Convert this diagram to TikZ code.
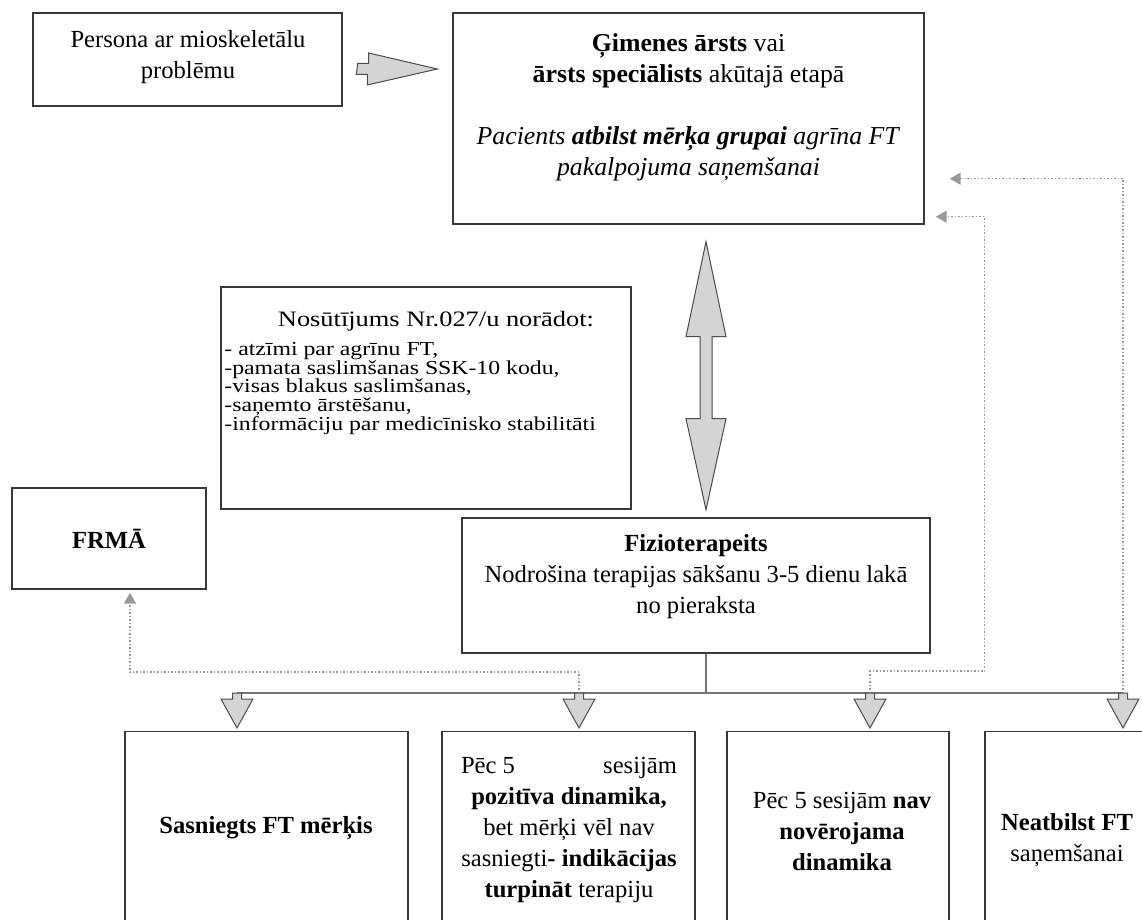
\documentclass[tikz,border=0pt]{standalone}
\usepackage{fontspec}
\setmainfont{Liberation Serif}
\newfontfamily\wideserif{Liberation Serif}[FakeStretch=1.2]
\usetikzlibrary{arrows.meta, positioning, calc}

% block arrow pointing down from the bus line
\newcommand{\downblk}[1]{\draw[blk] ($(#1)+(-4.5,0)$) -- ++(9,0) -- ++(0,6) -- ++(11.5,0)
    -- ++(-16,29) -- ++(-16,-29) -- ++(11.5,0) -- cycle;}
\newcommand{\tightlines}{\wideserif\fontsize{9.9}{9.35}\selectfont\lineskiplimit-100pt\relax}

\begin{document}
\begin{tikzpicture}[x=0.5pt,y=-0.5pt,
        every node/.style={font=\fontsize{12.3}{15.5}\selectfont},
        box/.style={draw=black!78,line width=0.7pt,inner sep=0pt},
        txt/.style={align=center,inner sep=0pt},
        blk/.style={draw=black!70,fill=black!17,line width=0.5pt},
        bus/.style={draw=black!55,line width=0.8pt},
        fb/.style={draw=black!40,line width=0.75pt,densely dotted,
            -{Triangle[length=5.5pt,width=6pt]}}]

    \clip (0,0) rectangle (1142,920);

    % top row
    \node[box,minimum width=154.5pt,minimum height=46.5pt] (pers) at (187.5,59.5) {};
    \node[txt] (pers-t) at (188,57) {Persona ar mioskeletālu\\problēmu};
    \node[box,minimum width=235.5pt,minimum height=105.5pt] (gim) at (688.5,118.5) {};
    \node[txt,font=\fontsize{12.9}{15.5}\selectfont] (gim-t) at (688.5,107)
        {\textbf{Ģimenes ārsts} vai\\\textbf{ārsts speciālists} akūtajā etapā\\[15.5pt]
         \textit{Pacients \textbf{atbilst mērķa grupai} agrīna FT}\\\textit{pakalpojuma saņemšanai}};

    \draw[blk] ($(pers.east)+(15,4)$) -- ++(11,0) -- ++(0,-10.5) -- ($(gim.west)+(-15,-49.5)$)
        -- ++(-70,16) -- ++(0,-10.5) -- ++(-11,0) -- cycle;

    % middle
    \node[box,minimum width=205pt,minimum height=111pt] (nos) at (426,398) {};
    \node[txt,font=\wideserif\fontsize{11}{12}\selectfont] (nos-t) at (436,321)
        {Nosūtījums Nr.027/u norādot:};
    \node[txt,align=left,anchor=north west,font=\tightlines] (nos-l) at (224,342)
        {- atzīmi par agrīnu FT,\\-pamata saslimšanas SSK-10 kodu,\\-visas blakus saslimšanas,\\
         -saņemto ārstēšanu,\\-informāciju par medicīnisko stabilitāti};

    \node[box,minimum width=97pt,minimum height=50.5pt] (frma) at (109,538.5) {\textbf{FRMĀ}};

    \node[box,minimum width=234pt,minimum height=67.5pt] (fiz) at (696,585.5) {};
    \node[txt] (fiz-t) at (696,577)
        {\textbf{Fizioterapeits}\\Nodrošina terapijas sākšanu 3-5 dienu lakā\\no pieraksta};

    \draw[blk] ($(gim.south)+(17.5,17)$) -- ++(20,95) -- ++(-14,0) -- ++(0,82) -- ++(14,0)
        -- ++(-20,91) -- ++(-20,-91) -- ++(14,0) -- ++(0,-82) -- ++(-14,0) -- cycle;

    % bus line
    \coordinate (b1) at (237,693);
    \coordinate (b2) at (579,693);
    \coordinate (b3) at (870,693);
    \coordinate (b4) at (1123,693);
    \draw[bus] ($(fiz.south)+(10,0)$) -- ++(0,40);
    \draw[bus] (b1) -- (b4);

    % bottom row
    \node[box,anchor=north,minimum width=141.5pt,minimum height=99pt] (s1) at (266.5,731) {};
    \node[box,anchor=north,minimum width=126.5pt,minimum height=99pt] (s2) at (568.5,731) {};
    \node[box,anchor=north,minimum width=111pt,minimum height=99pt] (s3) at (838,731) {};
    \node[box,anchor=north,minimum width=82.5pt,minimum height=99pt] (s4) at (1067.5,731) {};
    \node[txt] (s1-t) at (266,828) {\textbf{Sasniegts FT mērķis}};
    \node[txt] (s2-t) at (569,830)
        {\hbox to 108pt{Pēc 5\hfill sesijām}\\\textbf{pozitīva dinamika,}\\bet mērķi vēl nav\\
         sasniegti\textbf{- indikācijas}\\\textbf{turpināt} terapiju};
    \node[txt] (s3-t) at (842,831) {Pēc 5 sesijām \textbf{nav}\\\textbf{novērojama}\\\textbf{dinamika}};
    \node[txt] (s4-t) at (1067,840) {\textbf{Neatbilst FT}\\saņemšanai};

    % feedback lines
    \draw[fb] (b2) -- ++(0,-21) -| ($(frma.south)+(21,3)$);
    \draw[fb] (b3) -- ++(0,-22) -| ($(gim.south east)+(60,-8)$) -- ($(gim.south east)+(11,-8)$);
    \draw[fb] (b4) |- ($(gim.south east)+(25,-46)$);

    \foreach \b in {b1,b2,b3,b4} {\downblk{\b}}
\end{tikzpicture}
\end{document}
